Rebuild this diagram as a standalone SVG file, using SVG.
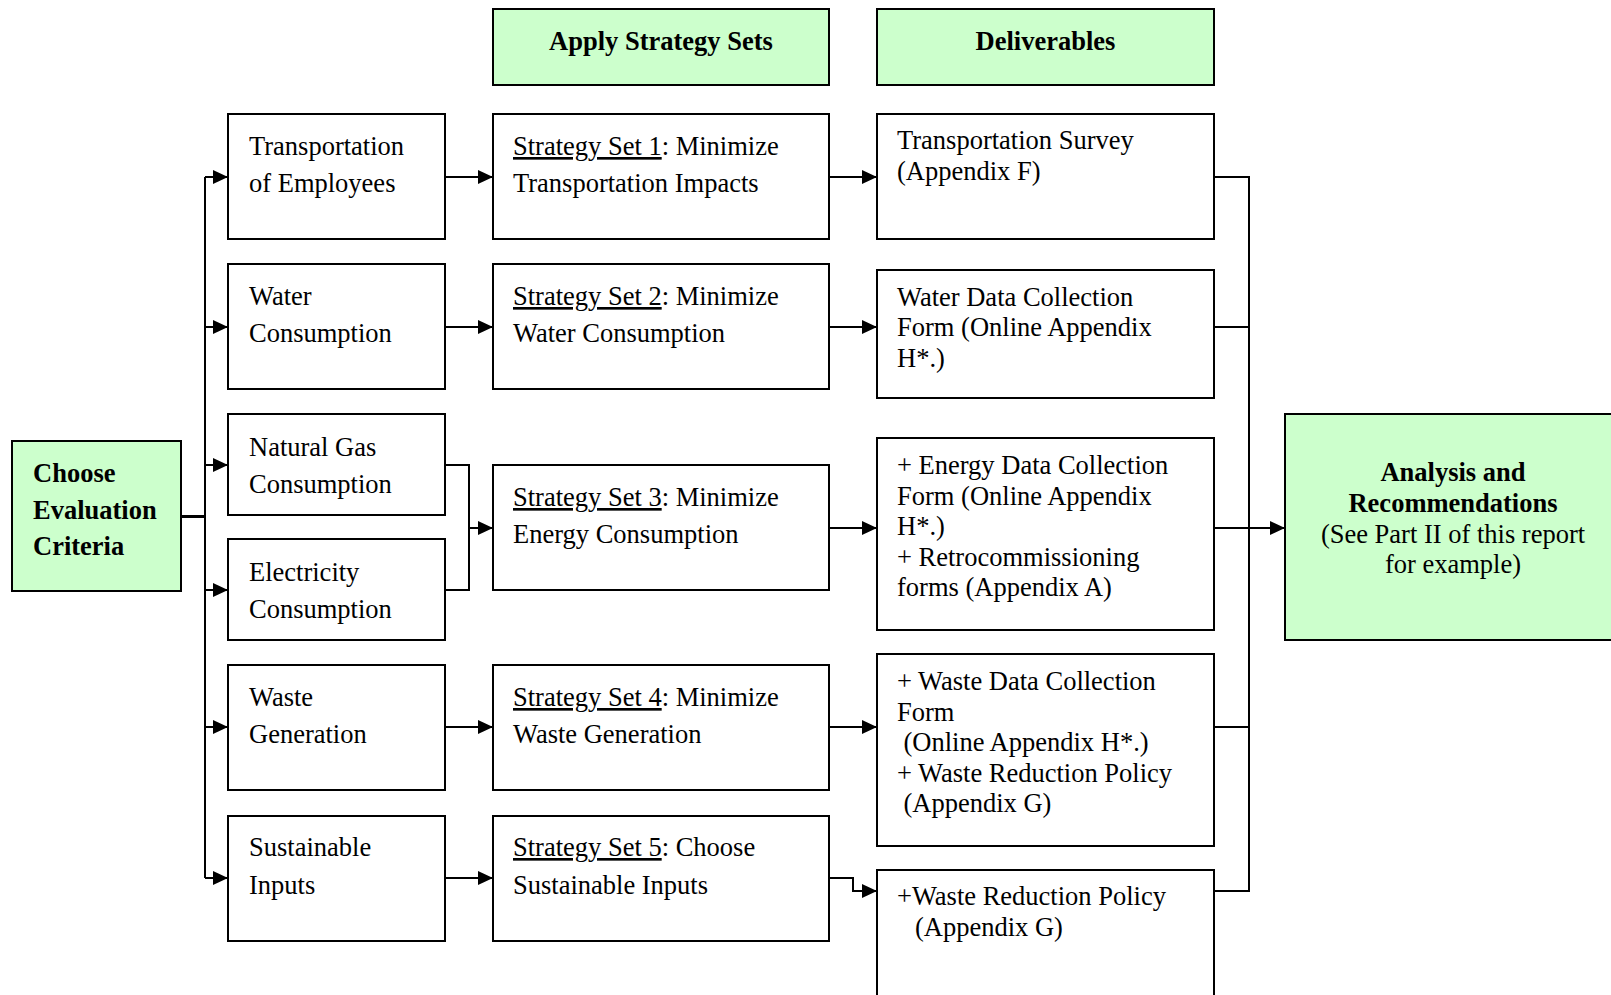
<svg xmlns="http://www.w3.org/2000/svg" width="1611" height="995" viewBox="0 0 1611 995">
<style>
  .box{fill:#ffffff;stroke:#000;stroke-width:2}
  .g{fill:#ccffcc;stroke:#000;stroke-width:2}
  .t{font-family:"Liberation Serif","Times New Roman",serif;font-size:26.5px;fill:#000}
  .b{font-weight:bold}
  .c{text-anchor:middle}
  .u{text-decoration:underline}
  .ln{fill:none;stroke:#000;stroke-width:2}
</style>
<defs>
  <marker id="ah" markerUnits="userSpaceOnUse" markerWidth="15" markerHeight="14" refX="15" refY="7" orient="auto">
    <path d="M0,0 L15,7 L0,14 z" fill="#000"/>
  </marker>
</defs>
<rect width="1611" height="995" fill="#fff"/>

<g id="connectors">
  <path class="ln" d="M181,516.5 H205" style="stroke-width:3"/>
  <path class="ln" d="M205,177 V878"/>
  <path class="ln" d="M205,177 H228" marker-end="url(#ah)"/>
  <path class="ln" d="M205,327 H228" marker-end="url(#ah)"/>
  <path class="ln" d="M205,465 H228" marker-end="url(#ah)"/>
  <path class="ln" d="M205,590 H228" marker-end="url(#ah)"/>
  <path class="ln" d="M205,727 H228" marker-end="url(#ah)"/>
  <path class="ln" d="M205,878 H228" marker-end="url(#ah)"/>

  <path class="ln" d="M445,177 H493" marker-end="url(#ah)"/>
  <path class="ln" d="M445,327 H493" marker-end="url(#ah)"/>
  <path class="ln" d="M445,465 H469 V590 H445"/>
  <path class="ln" d="M469,528 H493" marker-end="url(#ah)"/>
  <path class="ln" d="M445,727 H493" marker-end="url(#ah)"/>
  <path class="ln" d="M445,878 H493" marker-end="url(#ah)"/>

  <path class="ln" d="M829,177 H877" marker-end="url(#ah)"/>
  <path class="ln" d="M829,327 H877" marker-end="url(#ah)"/>
  <path class="ln" d="M829,528 H877" marker-end="url(#ah)"/>
  <path class="ln" d="M829,727 H877" marker-end="url(#ah)"/>
  <path class="ln" d="M829,878 H853 V891 H877" marker-end="url(#ah)"/>

  <path class="ln" d="M1214,177 H1249 V891 H1214"/>
  <path class="ln" d="M1214,327 H1249"/>
  <path class="ln" d="M1214,727 H1249"/>
  <path class="ln" d="M1214,528 H1285" marker-end="url(#ah)"/>
</g>

<g id="choose">
  <rect class="g" x="12" y="441" width="169" height="150"/>
  <text class="t b" x="33" y="482">Choose</text>
  <text class="t b" x="33" y="519">Evaluation</text>
  <text class="t b" x="33" y="555">Criteria</text>
</g>

<g id="hdr-apply">
  <rect class="g" x="493" y="9" width="336" height="76"/>
  <text class="t b c" x="661" y="50">Apply Strategy Sets</text>
</g>
<g id="hdr-deliverables">
  <rect class="g" x="877" y="9" width="337" height="76"/>
  <text class="t b c" x="1045.5" y="50">Deliverables</text>
</g>

<g id="crit-transport">
  <rect class="box" x="228" y="114" width="217" height="125"/>
  <text class="t" x="249" y="155">Transportation</text>
  <text class="t" x="249" y="192">of Employees</text>
</g>
<g id="crit-water">
  <rect class="box" x="228" y="264" width="217" height="125"/>
  <text class="t" x="249" y="305">Water</text>
  <text class="t" x="249" y="342">Consumption</text>
</g>
<g id="crit-gas">
  <rect class="box" x="228" y="414" width="217" height="101"/>
  <text class="t" x="249" y="456">Natural Gas</text>
  <text class="t" x="249" y="493">Consumption</text>
</g>
<g id="crit-elec">
  <rect class="box" x="228" y="539" width="217" height="101"/>
  <text class="t" x="249" y="581">Electricity</text>
  <text class="t" x="249" y="618">Consumption</text>
</g>
<g id="crit-waste">
  <rect class="box" x="228" y="665" width="217" height="125"/>
  <text class="t" x="249" y="706">Waste</text>
  <text class="t" x="249" y="743">Generation</text>
</g>
<g id="crit-inputs">
  <rect class="box" x="228" y="816" width="217" height="125"/>
  <text class="t" x="249" y="856">Sustainable</text>
  <text class="t" x="249" y="894">Inputs</text>
</g>

<g id="ss1">
  <rect class="box" x="493" y="114" width="336" height="125"/>
  <text class="t" x="513" y="155"><tspan class="u">Strategy Set 1</tspan>: Minimize</text>
  <text class="t" x="513" y="192">Transportation Impacts</text>
</g>
<g id="ss2">
  <rect class="box" x="493" y="264" width="336" height="125"/>
  <text class="t" x="513" y="305"><tspan class="u">Strategy Set 2</tspan>: Minimize</text>
  <text class="t" x="513" y="342">Water Consumption</text>
</g>
<g id="ss3">
  <rect class="box" x="493" y="465" width="336" height="125"/>
  <text class="t" x="513" y="506"><tspan class="u">Strategy Set 3</tspan>: Minimize</text>
  <text class="t" x="513" y="543">Energy Consumption</text>
</g>
<g id="ss4">
  <rect class="box" x="493" y="665" width="336" height="125"/>
  <text class="t" x="513" y="706"><tspan class="u">Strategy Set 4</tspan>: Minimize</text>
  <text class="t" x="513" y="743">Waste Generation</text>
</g>
<g id="ss5">
  <rect class="box" x="493" y="816" width="336" height="125"/>
  <text class="t" x="513" y="856"><tspan class="u">Strategy Set 5</tspan>: Choose</text>
  <text class="t" x="513" y="894">Sustainable Inputs</text>
</g>

<g id="del-transport">
  <rect class="box" x="877" y="114" width="337" height="125"/>
  <text class="t" x="897" y="149">Transportation Survey</text>
  <text class="t" x="897" y="179.5">(Appendix F)</text>
</g>
<g id="del-water">
  <rect class="box" x="877" y="270" width="337" height="128"/>
  <text class="t" x="897" y="305.5">Water Data Collection</text>
  <text class="t" x="897" y="336">Form (Online Appendix</text>
  <text class="t" x="897" y="366.5">H*.)</text>
</g>
<g id="del-energy">
  <rect class="box" x="877" y="438" width="337" height="192"/>
  <text class="t" x="897" y="474">+ Energy Data Collection</text>
  <text class="t" x="897" y="504.5">Form (Online Appendix</text>
  <text class="t" x="897" y="535">H*.)</text>
  <text class="t" x="897" y="565.5">+ Retrocommissioning</text>
  <text class="t" x="897" y="596">forms (Appendix A)</text>
</g>
<g id="del-waste">
  <rect class="box" x="877" y="654" width="337" height="192"/>
  <text class="t" x="897" y="690">+ Waste Data Collection</text>
  <text class="t" x="897" y="720.5">Form</text>
  <text class="t" x="903.5" y="751">(Online Appendix H*.)</text>
  <text class="t" x="897" y="781.5">+ Waste Reduction Policy</text>
  <text class="t" x="903.5" y="812">(Appendix G)</text>
</g>
<g id="del-policy">
  <rect class="box" x="877" y="870" width="337" height="140"/>
  <text class="t" x="897" y="905">+Waste Reduction Policy</text>
  <text class="t" x="915" y="936">(Appendix G)</text>
</g>

<g id="analysis">
  <rect class="g" x="1285" y="414" width="340" height="226"/>
  <text class="t b c" x="1453" y="481">Analysis and</text>
  <text class="t b c" x="1453" y="512">Recommendations</text>
  <text class="t c" x="1453" y="543">(See Part II of this report</text>
  <text class="t c" x="1453" y="573">for example)</text>
</g>
</svg>
